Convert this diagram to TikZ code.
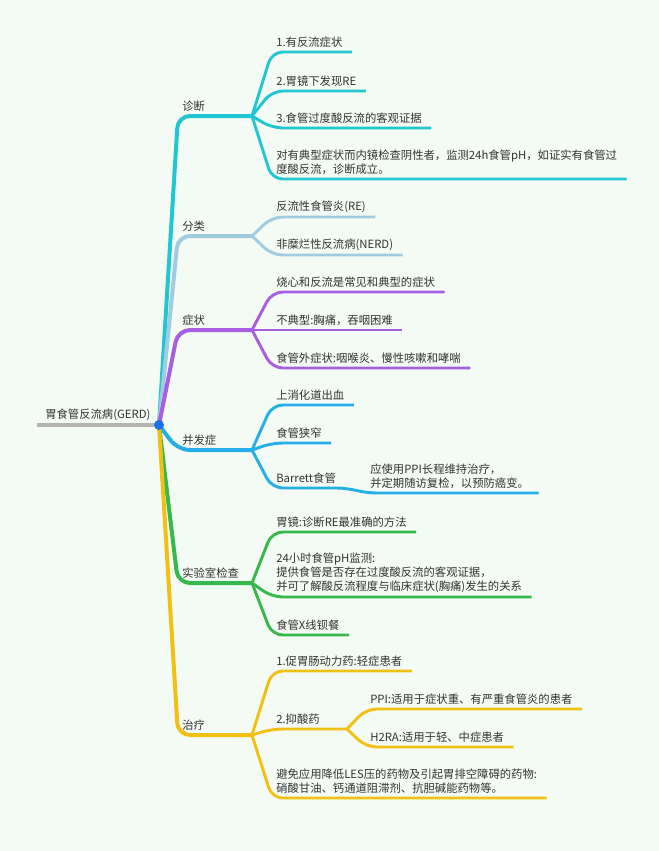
\documentclass[tikz,border=0pt]{standalone}
\usepackage{fontspec}
\setmainfont{Noto Sans CJK SC}
\usetikzlibrary{positioning,calc}
\usepackage{xcolor}
\definecolor{bgMint}{RGB}{244,250,244}
\definecolor{diagCyan}{RGB}{34,198,208}
\definecolor{classBlue}{RGB}{160,204,226}
\definecolor{symPurple}{RGB}{168,94,224}
\definecolor{compBlue}{RGB}{38,174,230}
\definecolor{labGreen}{RGB}{54,185,74}
\definecolor{treatYellow}{RGB}{242,192,20}
\definecolor{rootGrey}{RGB}{180,180,180}
\definecolor{dotBlue}{RGB}{30,111,232}
\definecolor{textGrey}{RGB}{51,51,51}

\begin{document}
\begin{tikzpicture}[
      x=0.75pt, y=-0.75pt,
      every node/.style={
        font=\fontsize{8.5pt}{10.5pt}\selectfont,
        text=textGrey,
        inner xsep=3pt,
        inner ysep=3pt,
        anchor=south west,
        align=left
      },
      trunk/.style={line width=3pt, rounded corners=9pt},
      twig/.style={line width=2.2pt, rounded corners=8pt}
      ]

      \fill[bgMint] (0,0) rectangle (659,851);
      \useasboundingbox (0,0) rectangle (659,851);

      \coordinate (root) at (159,425);
      \node (gerd) at (41,425) {胃食管反流病(GERD)};
      \draw[trunk, color=rootGrey] ([xshift=-3pt]gerd.south west) -- (root);

      \foreach \n/\y/\col/\txt in {diag/116/diagCyan/诊断, cls/236/classBlue/分类,
        sym/330/symPurple/症状, comp/450/compBlue/并发症,
        lab/583/labGreen/实验室检查, treat/735/treatYellow/治疗}{
        \node (\n) at (178,\y) {\txt};
        \coordinate (\n-f) at (252,\y);
        \draw[trunk, color=\col] (root) -- (\n.south west) -- (\n-f);
      }

      \foreach \n/\y/\txt in {d1/52/1.有反流症状, d2/91/2.胃镜下发现RE,
        d3/128/3.食管过度酸反流的客观证据}{
        \node (\n) at (272,\y) {\txt};
        \draw[twig, color=diagCyan] (diag-f) -- (\n.south west) -- ([xshift=4pt]\n.south east);
      }
      \node (d4) at (272,179) {对有典型症状而内镜检查阴性者，监测24h食管pH，如证实有食管过\\度酸反流，诊断成立。};
      \draw[twig, color=diagCyan] (diag-f) -- (d4.south west) -- ([xshift=4pt]d4.south east);

      \foreach \n/\y/\txt in {c1/217/反流性食管炎(RE), c2/255/非糜烂性反流病(NERD)}{
        \node (\n) at (272,\y) {\txt};
        \draw[twig, color=classBlue] (cls-f) -- (\n.south west) -- ([xshift=4pt]\n.south east);
      }

      \foreach \n/\y/\txt in {s1/292/烧心和反流是常见和典型的症状, s2/330/不典型:胸痛，吞咽困难,
        s3/368/食管外症状:咽喉炎、慢性咳嗽和哮喘}{
        \node (\n) at (272,\y) {\txt};
        \draw[twig, color=symPurple] (sym-f) -- (\n.south west) -- ([xshift=4pt]\n.south east);
      }

      \foreach \n/\y/\txt in {p1/405/上消化道出血, p2/443/食管狭窄}{
        \node (\n) at (272,\y) {\txt};
        \draw[twig, color=compBlue] (comp-f) -- (\n.south west) -- ([xshift=4pt]\n.south east);
      }
      \node (p3) at (272,488) {Barrett食管};
      \coordinate (p3-f) at (347,488);
      \node (p3a) at (366,493) {应使用PPI长程维持治疗，\\并定期随访复检，以预防癌变。};
      \draw[twig, color=compBlue] (comp-f) -- (p3.south west) -- (p3-f)
        -- (p3a.south west) -- ([xshift=4pt]p3a.south east);

      \node (l1) at (272,532) {胃镜:诊断RE最准确的方法};
      \node (l2) at (272,597) {24小时食管pH监测:\\提供食管是否存在过度酸反流的客观证据，\\并可了解酸反流程度与临床症状(胸痛)发生的关系};
      \node (l3) at (272,635) {食管X线钡餐};
      \foreach \n in {l1, l2, l3}{
        \draw[twig, color=labGreen] (lab-f) -- (\n.south west) -- ([xshift=4pt]\n.south east);
      }

      \node (t1) at (272,671) {1.促胃肠动力药:轻症患者};
      \draw[twig, color=treatYellow] (treat-f) -- (t1.south west) -- ([xshift=4pt]t1.south east);
      \node (t2) at (272,729) {2.抑酸药};
      \coordinate (t2-f) at (347,729);
      \draw[twig, color=treatYellow] (treat-f) -- (t2.south west) -- (t2-f);
      \foreach \n/\y/\txt in {t2a/709/PPI:适用于症状重、有严重食管炎的患者, t2b/747/H2RA:适用于轻、中症患者}{
        \node (\n) at (366,\y) {\txt};
        \draw[twig, color=treatYellow] (t2-f) -- (\n.south west) -- ([xshift=4pt]\n.south east);
      }
      \node (t3) at (272,798) {避免应用降低LES压的药物及引起胃排空障碍的药物:\\硝酸甘油、钙通道阻滞剂、抗胆碱能药物等。};
      \draw[twig, color=treatYellow] (treat-f) -- (t3.south west) -- ([xshift=4pt]t3.south east);

      \fill[dotBlue] (root) circle[radius=3.75pt];
    \end{tikzpicture}
\end{document}
